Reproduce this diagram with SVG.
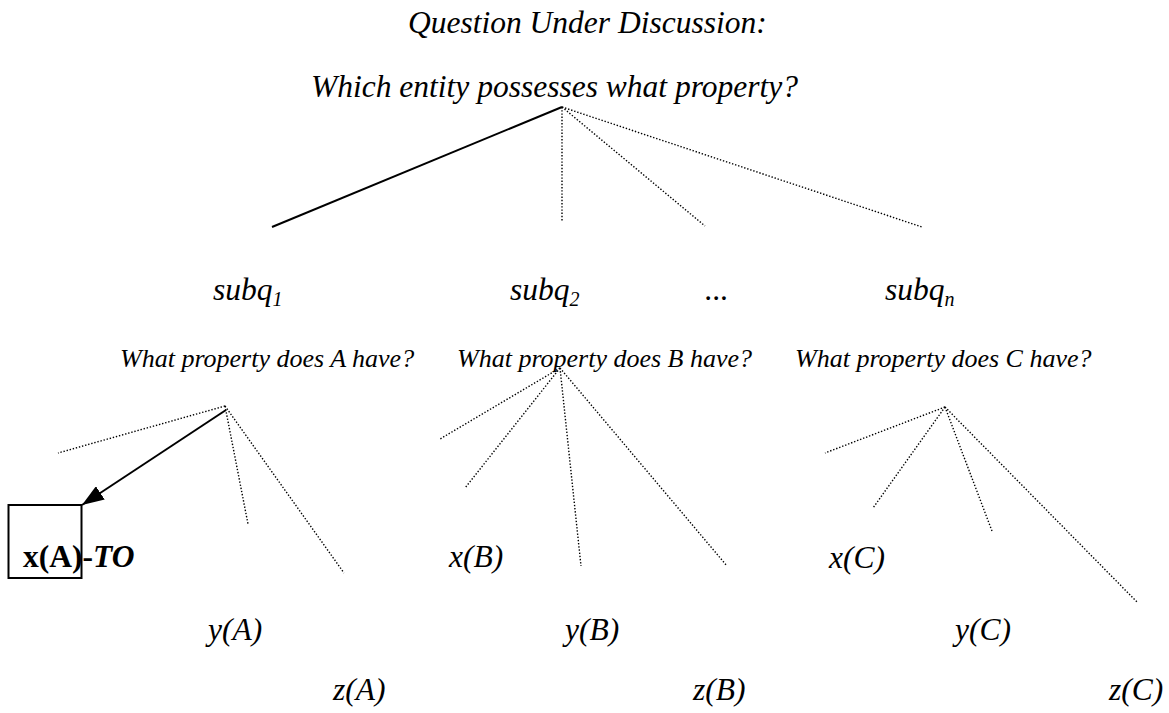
<svg xmlns="http://www.w3.org/2000/svg" width="1169" height="713" viewBox="0 0 1169 713">
<style>
text { font-family: "Liberation Serif", "Times New Roman", serif; fill: #000; }
.big { font-size: 31.5px; font-style: italic; }
.sq { font-size: 26px; font-style: italic; }
.sub { font-size: 20px; }
.dot { stroke: #000; stroke-width: 1.4; stroke-dasharray: 1.4 1.8; fill: none; }
.solid { stroke: #000; stroke-width: 2; fill: none; }
</style>
<defs>
<marker id="arr" viewBox="0 0 10 10" refX="10" refY="5" markerWidth="11" markerHeight="8" markerUnits="userSpaceOnUse" orient="auto" preserveAspectRatio="none">
<path d="M0,0 L10,5 L0,10 z" fill="#000"/>
</marker>
<marker id="arrow" viewBox="0 0 22 16" refX="22" refY="8" markerWidth="22" markerHeight="16" markerUnits="userSpaceOnUse" orient="auto">
<path d="M0,0 L22,8 L0,16 z" fill="#000"/>
</marker>
</defs>
<rect width="1169" height="713" fill="#fff"/>

<g id="root">
<text class="big" x="408" y="33">Question Under Discussion:</text>
<text class="big" x="311" y="97">Which entity possesses what property?</text>
</g>

<g id="subq1"><text class="big" x="213" y="300">subq<tspan class="sub" dy="6">1</tspan></text></g>
<g id="subq2"><text class="big" x="510" y="300">subq<tspan class="sub" dy="6">2</tspan></text></g>
<g id="ellipsis"><text class="big" x="705" y="300">...</text></g>
<g id="subqn"><text class="big" x="885" y="300">subq<tspan class="sub" dy="6">n</tspan></text></g>

<g id="qA"><text class="sq" x="120" y="367">What property does A have?</text></g>
<g id="qB"><text class="sq" x="457" y="367">What property does B have?</text></g>
<g id="qC"><text class="sq" x="795" y="367">What property does C have?</text></g>

<g id="xA">
<rect x="8.5" y="505" width="73" height="73" fill="none" stroke="#000" stroke-width="2"/>
<text x="23" y="567" font-size="31.5" font-weight="bold">x(A)-<tspan font-style="italic">TO</tspan></text>
</g>
<g id="xB"><text class="big" x="449" y="567">x(B)</text></g>
<g id="xC"><text class="big" x="829" y="568">x(C)</text></g>
<g id="yA"><text class="big" x="208" y="640">y(A)</text></g>
<g id="yB"><text class="big" x="565" y="640">y(B)</text></g>
<g id="yC"><text class="big" x="955" y="640">y(C)</text></g>
<g id="zA"><text class="big" x="333" y="700">z(A)</text></g>
<g id="zB"><text class="big" x="693" y="700">z(B)</text></g>
<g id="zC"><text class="big" x="1109" y="700">z(C)</text></g>

<g id="connectors">
<line class="solid" x1="562" y1="107" x2="272" y2="227"/>
<line class="dot" x1="562" y1="107" x2="562" y2="222"/>
<line class="dot" x1="562" y1="107" x2="705" y2="226"/>
<line class="dot" x1="562" y1="107" x2="922" y2="227"/>

<line class="dot" x1="225" y1="406" x2="58" y2="453"/>
<line class="solid" x1="226" y1="410" x2="82" y2="505" marker-end="url(#arrow)"/>
<line class="dot" x1="225" y1="406" x2="248" y2="524"/>
<line class="dot" x1="225" y1="406" x2="344" y2="573"/>

<line class="dot" x1="560" y1="368" x2="440" y2="439"/>
<line class="dot" x1="560" y1="368" x2="465" y2="488"/>
<line class="dot" x1="560" y1="368" x2="581" y2="566"/>
<line class="dot" x1="560" y1="368" x2="727" y2="566"/>

<line class="dot" x1="945" y1="407" x2="825" y2="453"/>
<line class="dot" x1="945" y1="407" x2="873" y2="508"/>
<line class="dot" x1="945" y1="407" x2="992" y2="531"/>
<line class="dot" x1="945" y1="407" x2="1137" y2="602"/>
</g>
</svg>
